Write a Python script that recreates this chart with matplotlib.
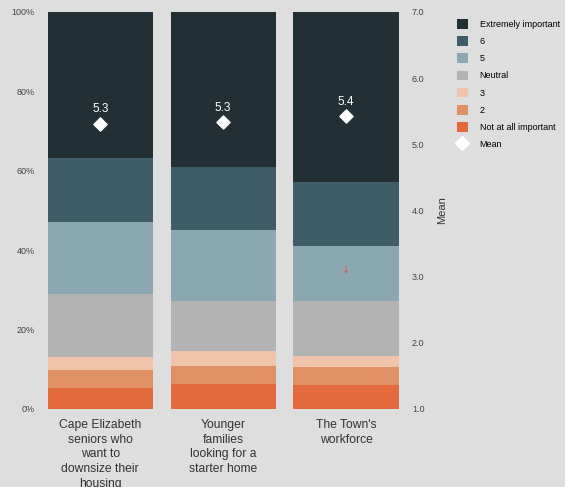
import matplotlib
matplotlib.use("Agg")
import matplotlib.pyplot as plt
from matplotlib.patches import Patch
from matplotlib.lines import Line2D
import numpy as np

plt.rcParams['font.family'] = ['Liberation Sans', 'DejaVu Sans']

categories = ["Cape Elizabeth\nseniors who\nwant to\ndownsize their\nhousing",
              "Younger\nfamilies\nlooking for a\nstarter home",
              "The Town's\nworkforce"]
levels = ["Not at all important", "2", "3", "Neutral", "5", "6", "Extremely important"]
not_at_all = [5.4, 6.4, 6.0]
two = [4.3, 4.5, 4.5]
three = [3.4, 3.7, 2.9]
neutral = [15.8, 12.6, 13.8]
five = [18.2, 18.0, 13.9]
six = [16.0, 15.7, 16.2]
extremely = [36.9, 39.1, 42.7]
means = [5.31, 5.33, 5.43]
mean_labels = ["5.3", "5.3", "5.4"]

colors = ["#e36a3d", "#df9064", "#efc4aa", "#b3b3b3", "#8aa7b2", "#3f5d68", "#223035"]
series = [not_at_all, two, three, neutral, five, six, extremely]

bg = "#dedede"
fig = plt.figure(figsize=(5.65, 4.87), dpi=100, facecolor=bg)
ax = fig.add_axes([40/565, 1 - 409/487, (405-40)/565, 397/487])
ax.set_facecolor(bg)
x = np.arange(len(categories))
bottom = np.zeros(len(categories))
for vals, c in zip(series, colors):
    ax.bar(x, vals, bottom=bottom, width=0.855, color=c, edgecolor='none')
    bottom += np.array(vals)
ax.set_xlim(-0.49, 2.48)
ax.set_ylim(0, 100)
ax.set_yticks([0, 20, 40, 60, 80, 100])
ax.set_yticklabels(["0%", "20%", "40%", "60%", "80%", "100%"], fontsize=6.5, color="#444444")
ax.set_xticks(x)
ax.set_xticklabels(categories, fontsize=8.7, color="#333333", linespacing=1.31)
ax.tick_params(axis='both', length=0, pad=4)
ax.tick_params(axis='x', pad=7)
for s in ax.spines.values():
    s.set_visible(False)

ax2 = ax.twinx()
ax2.set_ylim(1, 7)
ax2.set_yticks([1, 2, 3, 4, 5, 6, 7])
ax2.set_yticklabels(["1.0", "2.0", "3.0", "4.0", "5.0", "6.0", "7.0"], fontsize=6.5, color="#444444")
ax2.tick_params(axis='y', length=0, pad=5)
ax2.set_ylabel("Mean", fontsize=8, color="#333333", labelpad=9)
for s in ax2.spines.values():
    s.set_visible(False)
ax2.scatter(x, means, marker='D', s=45, color='white', zorder=5)
for xi, m, lab in zip(x, means, mean_labels):
    ax2.annotate(lab, (xi, m), xytext=(0, 6), textcoords='offset points',
                 ha='center', va='bottom', color='white', fontsize=8.5)
ax2.text(2, 3.1, "↓", ha='center', va='center', color='#d9534f', fontsize=7,
         family='DejaVu Sans')

handles = [Patch(facecolor=c, edgecolor='none') for c in colors[::-1]]
labels = levels[::-1]
handles.append(Line2D([0], [0], marker='D', color='none', markerfacecolor='white',
                      markeredgecolor='white', markersize=7))
labels.append("Mean")
fig.legend(handles, labels, loc='upper left', bbox_to_anchor=(457/565, 1 - 19/487),
           frameon=False, fontsize=6.5, handlelength=1.2, handleheight=1.25,
           labelspacing=0.82, handletextpad=1.3, borderaxespad=0, borderpad=0)

fig.savefig("out.png", dpi=100, facecolor=bg)
